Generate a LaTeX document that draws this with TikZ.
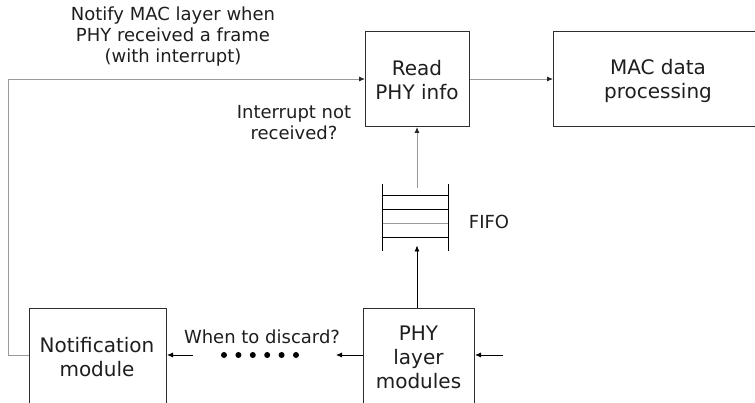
\documentclass[tikz,border=0pt]{standalone}
\usepackage{fontspec}
\setmainfont{DejaVu Sans}
\usetikzlibrary{arrows.meta}
\definecolor{txt}{HTML}{1E1E1E}
\definecolor{bord}{HTML}{2E2E2E}
\definecolor{gline}{HTML}{9A9A9A}
\tikzset{
  box/.style={draw=bord, line width=1pt, rectangle, inner sep=0pt},
  boxtext/.style={text=txt, align=center, inner sep=0pt, font=\fontsize{20}{24}\selectfont},
  lbl/.style={text=txt, align=center, inner sep=0pt, font=\fontsize{18}{21}\selectfont},
  garrow/.style={draw=gline, line width=0.9pt, -{Latex[length=6pt,width=5pt,color=black!85]}},
  karrow/.style={draw=black, line width=0.8pt, -{Latex[length=6pt,width=5pt]}},
  gline/.style={draw=gline, line width=0.9pt},
  fifoline/.style={draw=black, line width=0.9pt},
}
\begin{document}
\begin{tikzpicture}[x=1pt,y=-1pt]
\useasboundingbox (0,0) rectangle (755,403);
\clip (0,0) rectangle (755,403);
% boxes
\node[box, minimum width=104pt, minimum height=95pt, anchor=north west] (read) at (365,31) {};
\node[box, minimum width=210pt, minimum height=95pt, anchor=north west] (mac) at (553,31) {};
\node[box, minimum width=137pt, minimum height=120pt, anchor=north west] (notif) at (29,308) {};
\node[box, minimum width=111pt, minimum height=120pt, anchor=north west] (phy) at (363,308) {};
% box texts
\node[boxtext] (readtxt) at (417,80) {Read\\PHY info};
\node[boxtext] (mactxt) at (658,80.5) {MAC data\\processing};
\node[boxtext] (notiftxt) at (97,357) {Notification\\module};
\node[boxtext] (phytxt) at (418.5,357.5) {PHY\\layer\\modules};
% labels
\node[lbl] (notify) at (173,37) {Notify MAC layer when\\PHY received a frame\\(with interrupt)};
\node[lbl] (intr) at (294,122.5) {Interrupt not\\received?};
\node[lbl] (fifotxt) at (489,222) {FIFO};
\node[lbl] (discard) at (262,337) {When to discard?};
% FIFO
\node[minimum width=65pt, minimum height=67pt, inner sep=0pt] (fifo) at (415.5,217.5) {};
\draw[fifoline] (fifo.north west) -- (fifo.south west);
\draw[fifoline] (fifo.north east) -- (fifo.south east);
\draw[fifoline] (383,195) -- (448,195);
\draw[fifoline] (383,209) -- (448,209);
\draw[gline] (383,223) -- (448,223);
\draw[fifoline] (383,237) -- (448,237);
% coordinates
\coordinate (fb) at (8,355);
\coordinate (fifotop) at (417,188);
\coordinate (fifobot) at (417,245.5);
\coordinate (phyout) at (336,355);
\coordinate (notifin) at (193,355);
\coordinate (phyin) at (503,355);
% connectors
\draw[garrow] (notif.west |- fb) -- (fb) |- (read.west);
\draw[garrow] (read.east) -- (mac.west);
\draw[garrow] (fifotop) -- (read.south -| fifotop);
\draw[karrow] (phy.north -| fifobot) -- (fifobot);
\draw[karrow] (phy.west |- fb) -- (phyout);
\draw[karrow] (notifin) -- (notif.east |- fb);
\draw[karrow] (phyin) -- (phy.east |- fb);
% dots
\foreach \i in {0,...,5} {
  \fill[black] (224+14.4*\i,355) circle (3pt);
}
\end{tikzpicture}
\end{document}
